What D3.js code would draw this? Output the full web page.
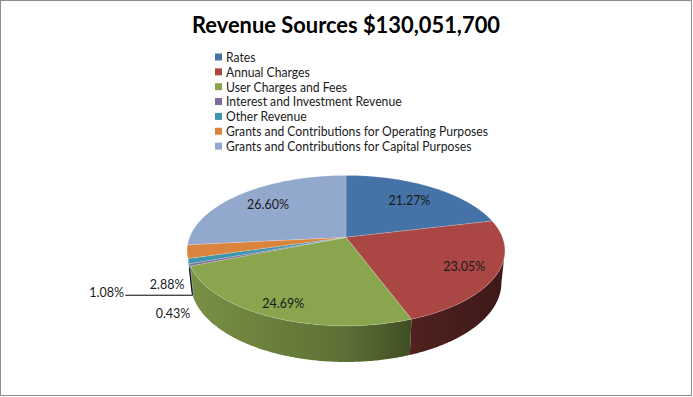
<!DOCTYPE html>
<html>
<head>
<meta charset="utf-8">
<script src="https://cdn.jsdelivr.net/npm/d3@7"></script>
<style>
  html, body { margin: 0; padding: 0; background: #fff; }
  svg { display: block; font-family: Lato, "Open Sans", sans-serif; }
</style>
</head>
<body>
<svg id="chart" width="693" height="397"></svg>
<script>
// chart data
const title = "Revenue Sources $130,051,700";
const categories = [
  "Rates",
  "Annual Charges",
  "User Charges and Fees",
  "Interest and Investment Revenue",
  "Other Revenue",
  "Grants and Contributions for Operating Purposes",
  "Grants and Contributions for Capital Purposes"
];
const shares = [21.27, 23.05, 24.69, 0.43, 1.08, 2.88, 26.60];
const colors = ["#4572A7", "#AA4643", "#89A54E", "#80699B", "#3D96AE", "#DB843D", "#92A8CD"];

// label placement: inside labels use a radius factor, outside ones an offset from the rim
const labelLayout = [
  { r: 0.72 }, { r: 0.8 }, { r: 0.85 },
  { dx: -17, dy: 48 },
  { dx: -82, dy: 31, leader: true },
  { dx: -20, dy: 33 },
  { r: 0.73 }
];

const width = 693, height = 397;
const svg = d3.select("#chart");

svg.append("rect")
  .attr("x", 0.5).attr("y", 0.5)
  .attr("width", width - 2).attr("height", height - 2)
  .attr("fill", "#fff").attr("stroke", "#8c8c8c");

// squeeze a text element to a width (the Calibri look is narrower than the fonts we have)
function squeeze(sel, ratio) {
  sel.each(function () {
    const w = this.getComputedTextLength();
    d3.select(this).attr("textLength", w * ratio).attr("lengthAdjust", "spacingAndGlyphs");
  });
}

// title
const titleText = svg.append("text")
  .attr("x", 346).attr("y", 33)
  .attr("text-anchor", "middle")
  .attr("font-size", 23).attr("font-weight", "bold")
  .attr("fill", "#000")
  .text(title);
squeeze(titleText, 308 / titleText.node().getComputedTextLength());

// legend
const legend = svg.append("g").attr("transform", "translate(215,57)");
const item = legend.selectAll("g")
  .data(categories)
  .enter()
  .append("g")
  .attr("transform", (d, i) => "translate(0," + i * 14.85 + ")");
item.append("rect")
  .attr("x", 0).attr("y", -3.5)
  .attr("width", 7).attr("height", 7)
  .attr("fill", (d, i) => colors[i]);
const legendText = item.append("text")
  .attr("x", 11).attr("y", 0).attr("dy", "0.37em")
  .attr("font-size", 13).attr("fill", "#1a1a1a")
  .text(d => d);
const longest = d3.max(legendText.nodes(), n => n.getComputedTextLength());
squeeze(legendText, 262 / longest);

// 3d perspective pie
const cx = 346, cy = 237.3, F = 782, D = 5;
const sinE = 0.466, cosE = Math.sqrt(1 - sinE * sinE);
const depth = 0.2346;

function project(theta, r, Y) {
  const X = r * Math.sin(theta), Z = -r * Math.cos(theta);
  const yc = -Z * sinE + Y * cosE;
  const zc = D - Z * cosE - Y * sinE;
  return [cx + F * X / zc, cy - F * yc / zc];
}

const pie = d3.pie().sort(null).value(d => d);
const arcs = pie(shares);
const line = d3.line();

function rim(a0, a1, Y) {
  const n = Math.max(2, Math.ceil((a1 - a0) / 0.01));
  return d3.range(n + 1).map(i => project(a0 + (a1 - a0) * i / n, 1, Y));
}

// silhouette angles of the rim
const samples = d3.range(0, 2 * Math.PI, 0.001);
const rightA = d3.greatest(samples, a => project(a, 1, 0)[0]);
const leftA = d3.least(samples, a => project(a, 1, 0)[0]);
const xLeft = project(leftA, 1, 0)[0], xRight = project(rightA, 1, 0)[0];

const defs = svg.append("defs");
const shade = [[0, 0.88], [0.5, 0.68], [0.7, 0.47], [1, 0.36]];
colors.forEach((c, i) => {
  const g = defs.append("linearGradient")
    .attr("id", "side" + i)
    .attr("gradientUnits", "userSpaceOnUse")
    .attr("x1", xLeft).attr("x2", xRight).attr("y1", 0).attr("y2", 0);
  const base = d3.rgb(c);
  shade.forEach(([o, k]) => {
    g.append("stop").attr("offset", o)
      .attr("stop-color", d3.rgb(base.r * k, base.g * k, base.b * k).formatHex());
  });
});

// outer walls, front half only
const walls = svg.append("g");
arcs.forEach((a, i) => {
  const b0 = Math.max(a.startAngle, rightA), b1 = Math.min(a.endAngle, leftA);
  if (b1 <= b0) return;
  const pts = rim(b0, b1, 0).concat(rim(b0, b1, -depth).reverse());
  walls.append("path")
    .attr("d", line(pts) + "Z")
    .attr("fill", "url(#side" + i + ")");
});

// top faces
const faces = svg.append("g");
arcs.forEach((a, i) => {
  const pts = [project(0, 0, 0)].concat(rim(a.startAngle, a.endAngle, 0));
  faces.append("path")
    .attr("d", line(pts) + "Z")
    .attr("fill", colors[i])
    .attr("stroke", "rgba(255,255,255,0.3)")
    .attr("stroke-width", 0.6)
    .attr("stroke-linejoin", "round");
});

// data labels
const labels = svg.append("g");
arcs.forEach((a, i) => {
  const mid = (a.startAngle + a.endAngle) / 2;
  const lay = labelLayout[i];
  let p;
  if (lay.r !== undefined) {
    p = project(mid, lay.r, 0);
  } else {
    const base = project(mid, 1, 0);
    p = [base[0] + lay.dx, base[1] + lay.dy];
  }
  const txt = labels.append("text")
    .attr("x", p[0]).attr("y", p[1]).attr("dy", "0.36em")
    .attr("text-anchor", "middle")
    .attr("font-size", 13).attr("fill", "#1a1a1a")
    .text(shares[i].toFixed(2) + "%");
  squeeze(txt, 0.96);
  if (lay.leader) {
    const end = project(mid, 1, -0.05);
    const w = txt.node().getComputedTextLength() * 0.96;
    const y0 = p[1] + 3;
    labels.append("path")
      .attr("d", line([[p[0] + w / 2 + 2, y0], [end[0] + 3, y0], end]))
      .attr("fill", "none").attr("stroke", "#000").attr("stroke-width", 1);
  }
});
</script>
</body>
</html>
